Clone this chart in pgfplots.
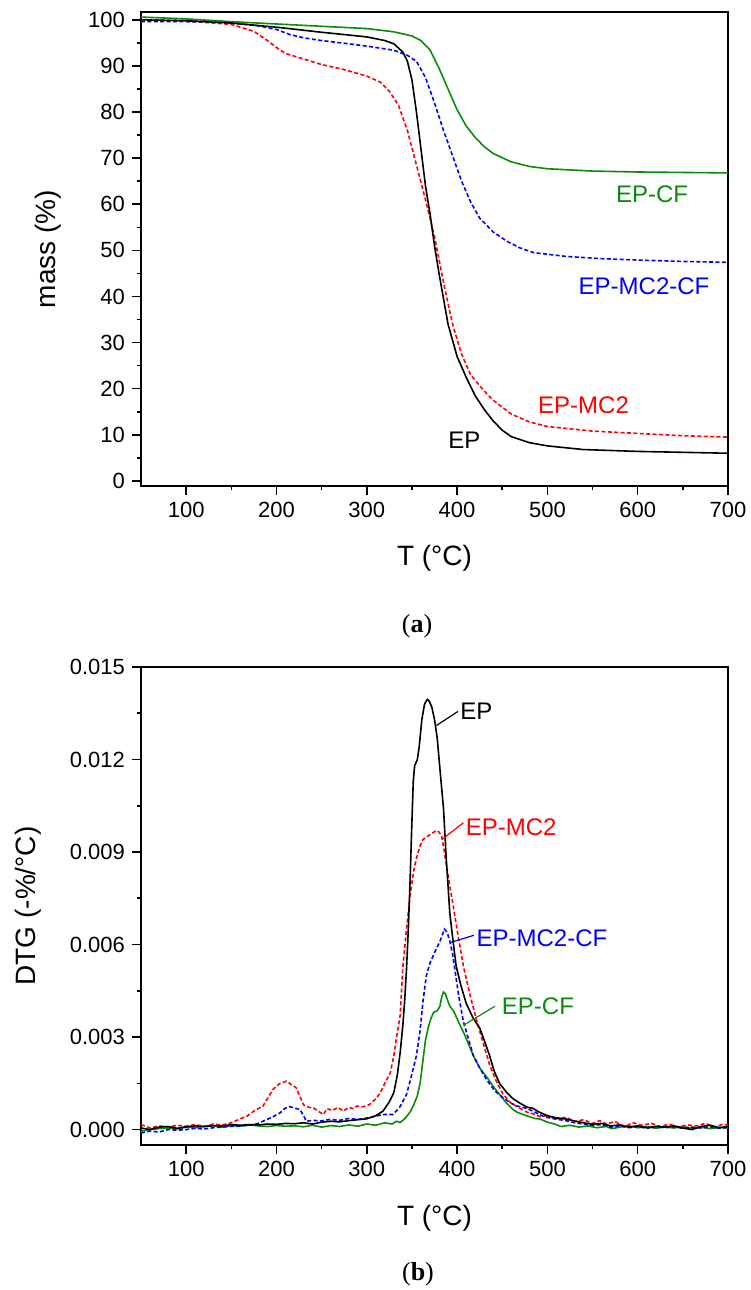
\documentclass[border=0pt]{standalone}
\usepackage{fontspec}
\setmainfont{Liberation Sans}
\newfontfamily\capserif{Liberation Serif}
\usepackage{pgfplots}
\pgfplotsset{compat=1.18}
\definecolor{cgreen}{RGB}{10,140,10}
\pgfplotstableread{
T m
50 100.6
100 100.2
150 99.6
200 99.1
250 98.6
300 98.1
330 97.4
350 96.5
360 95.5
370 93.5
380 89.5
390 85
400 80.5
410 77
420 74.5
430 72.5
440 71
460 69.2
480 68.2
500 67.7
550 67.2
600 67
650 66.9
700 66.8
}\tgaCF
\pgfplotstableread{
T m
50 100
100 99.8
150 99.3
200 98.4
250 97.3
300 96.3
320 95.5
330 94.8
340 93
345 91
350 87
355 80
360 72
365 64
370 58
375 51
380 45
390 34
400 27
410 22.5
420 18.5
430 15.5
440 13
450 11
460 9.6
480 8.3
500 7.6
540 6.8
600 6.4
650 6.2
700 6.0
}\tgaEP
\pgfplotstableread{
T m
50 100
100 99.8
150 99
175 97.5
190 95.5
200 94
210 92.7
225 91.8
250 90.3
275 89.2
300 87.8
315 86.5
325 84.5
335 81.5
345 76
355 68.5
365 61
375 53
385 43
395 34
405 27.5
415 23
430 19.5
440 17.5
460 14.5
480 12.8
500 11.8
550 10.8
600 10.3
650 9.8
700 9.5
}\tgaMC
\pgfplotstableread{
T m
50 99.6
100 99.6
150 99.3
180 98.7
200 97.9
215 96.8
230 96.1
250 95.5
280 94.8
300 94.3
330 93.4
345 92.3
355 91
365 87.5
375 82
385 76
395 70.5
405 65
415 60.5
425 57
440 54
455 52
470 50.5
485 49.5
520 48.7
560 48.2
600 47.9
650 47.6
700 47.4
}\tgaMCCF
\pgfplotstableread{
T d
50 0.00005
60 0.00000
70 0.00008
80 0.00010
90 0.00004
100 0.00009
110 0.00012
120 0.00010
130 0.00013
140 0.00012
150 0.00016
160 0.00014
170 0.00016
180 0.00015
190 0.00018
200 0.00017
210 0.00020
220 0.00019
230 0.00022
240 0.00018
250 0.00024
260 0.00027
270 0.00025
280 0.00029
290 0.00032
300 0.00035
310 0.00045
318 0.00060
325 0.00090
330 0.00120
334 0.00180
337 0.00250
340 0.00340
342 0.00420
344 0.00520
346 0.00650
348 0.00810
350 0.01000
351.5 0.01130
353 0.01180
356 0.01200
358 0.01240
361 0.01330
364 0.01380
367 0.01395
369 0.01390
372 0.01370
375 0.01330
378 0.01270
381 0.01170
385 0.01040
388 0.00880
392 0.00700
396 0.00600
399 0.00530
404 0.00470
410 0.00410
418 0.00360
425 0.00330
430 0.00290
436 0.00240
441 0.00190
447 0.00150
455 0.00120
462 0.00100
470 0.00085
478 0.00072
484 0.00069
490 0.00058
500 0.00045
510 0.00038
521 0.00034
530 0.00028
540 0.00022
550 0.00017
560 0.00020
570 0.00012
580 0.00015
590 0.00008
600 0.00012
610 0.00006
620 0.00010
630 0.00008
640 0.00012
650 0.00005
660 0.00000
670 0.00010
680 0.00014
690 0.00006
700 0.00010
}\dtgEP
\pgfplotstableread{
T d
50 0.00016
60 0.00005
70 0.00012
80 0.00008
90 0.00014
100 0.00011
110 0.00016
120 0.00010
130 0.00018
140 0.00015
150 0.00022
160 0.00035
167 0.00043
175 0.00060
185 0.00076
190 0.00100
196 0.00130
203 0.00148
211 0.00157
217 0.00145
222 0.00135
227 0.00100
230 0.00080
236 0.00072
241 0.00070
246 0.00060
252 0.00049
256 0.00068
262 0.00062
268 0.00072
274 0.00060
280 0.00072
285 0.00068
289 0.00076
296 0.00074
303 0.00081
310 0.00100
315 0.00119
320 0.00150
326 0.00184
330 0.00240
333 0.00300
337 0.00370
340 0.00530
344 0.00650
348 0.00760
352 0.00840
355 0.00880
359 0.00920
362 0.00940
367 0.00950
372 0.00960
377 0.00970
380 0.00965
383 0.00950
386 0.00900
388 0.00860
392 0.00790
396 0.00720
401 0.00630
407 0.00530
414 0.00440
422 0.00350
429 0.00280
436 0.00210
443 0.00160
451 0.00114
460 0.00085
469 0.00070
477 0.00057
485 0.00050
492 0.00042
500 0.00045
510 0.00035
521 0.00040
530 0.00025
540 0.00032
550 0.00020
558 0.00029
565 0.00018
575 0.00026
585 0.00010
595 0.00022
605 0.00014
615 0.00020
625 0.00010
635 0.00018
645 0.00008
655 0.00015
665 0.00012
675 0.00020
685 0.00008
695 0.00018
700 0.00014
}\dtgMC
\pgfplotstableread{
T d
50 -0.00011
60 -0.00005
70 -0.00008
80 0.00000
90 -0.00002
100 0.00000
110 0.00004
120 0.00002
130 0.00006
140 0.00008
148 0.00010
160 0.00012
170 0.00014
180 0.00020
185 0.00027
195 0.00040
204 0.00054
210 0.00070
215 0.00074
220 0.00070
226 0.00065
230 0.00045
233 0.00027
240 0.00030
250 0.00028
259 0.00033
270 0.00030
280 0.00036
290 0.00033
296 0.00035
305 0.00040
318 0.00049
329 0.00049
336 0.00070
344 0.00114
350 0.00180
355 0.00240
359 0.00320
362 0.00410
366 0.00500
370 0.00540
376 0.00580
381 0.00610
386 0.00650
389 0.00640
392 0.00610
395 0.00570
398 0.00510
402 0.00430
407 0.00350
412 0.00300
418 0.00240
425 0.00200
433 0.00160
442 0.00125
451 0.00103
460 0.00085
468 0.00075
477 0.00069
485 0.00058
494 0.00045
502 0.00038
511 0.00033
521 0.00029
530 0.00022
540 0.00018
550 0.00014
560 0.00016
570 0.00008
580 0.00012
590 0.00006
600 0.00010
610 0.00004
620 0.00010
630 0.00006
640 0.00009
650 0.00004
660 0.00008
670 0.00005
680 0.00009
690 0.00004
700 0.00007
}\dtgMCCF
\pgfplotstableread{
T d
50 -0.00005
60 0.00000
70 0.00003
80 0.00005
90 0.00002
100 0.00008
110 0.00006
120 0.00010
130 0.00012
140 0.00008
150 0.00013
160 0.00011
170 0.00015
180 0.00012
190 0.00010
200 0.00013
210 0.00011
220 0.00012
230 0.00009
240 0.00014
250 0.00008
260 0.00013
270 0.00010
280 0.00015
290 0.00011
300 0.00018
310 0.00014
320 0.00022
328 0.00018
333 0.00027
337 0.00023
342 0.00035
348 0.00057
352 0.00080
356 0.00110
359 0.00149
362 0.00220
365 0.00290
368 0.00330
371 0.00360
374 0.00380
378 0.00385
381 0.00400
383 0.00430
385 0.00446
387 0.00440
390 0.00415
392 0.00400
396 0.00385
400 0.00360
403 0.00340
408 0.00310
413 0.00275
418 0.00240
425 0.00200
433 0.00170
440 0.00140
447 0.00114
455 0.00085
462 0.00065
466 0.00057
472 0.00050
480 0.00042
486 0.00036
492 0.00034
500 0.00024
508 0.00018
515 0.00010
525 0.00014
535 0.00008
545 0.00012
555 0.00006
565 0.00010
572 0.00003
580 0.00008
590 0.00012
600 0.00006
610 0.00010
620 0.00004
630 0.00009
640 0.00005
650 0.00010
660 0.00004
670 0.00008
680 0.00003
690 0.00007
700 0.00005
}\dtgCF
\pgfplotsset{
  myax/.style={
    scale only axis, width=293.5pt,
    xmin=50, xmax=700, xtick={100,200,...,700}, minor x tick num=1,
    axis line style={line width=0.9pt},
    tick align=outside, xtick pos=bottom, ytick pos=left,
    major tick length=4.5pt, minor tick length=2.2pt,
    every tick/.style={line width=0.8pt,black},
    tick label style={font=\fontsize{11}{13}\selectfont},
    label style={font=\fontsize{14}{16}\selectfont},
    /pgf/number format/assume math mode=true,
    xlabel={T (°C)},
    no markers, clip=false,
    every axis plot/.append style={line width=0.8pt},
  },
  dsh/.style={dash pattern=on 2pt off 1.2pt},
}
\begin{document}
\begin{tikzpicture}
\useasboundingbox (0,0) rectangle (375pt,645pt);
\begin{axis}[myax, at={(70.5pt,402pt)}, anchor=south west, height=237pt,
  ymin=-1.1, ymax=101.7, ytick={0,10,...,100}, minor y tick num=1,
  ylabel={mass (\%)},
  xlabel style={at={(axis description cs:0.5,-0.152)}, anchor=center},
  ylabel style={at={(axis description cs:-0.1584,0.5)}, anchor=center},
]
\addplot[cgreen] table[x=T,y=m] {\tgaCF};
\addplot[blue,dsh] table[x=T,y=m] {\tgaMCCF};
\addplot[red,dsh] table[x=T,y=m] {\tgaMC};
\addplot[black] table[x=T,y=m] {\tgaEP};
\node[cgreen,font=\fontsize{12}{14}\selectfont] at (axis cs:616,62.2) {EP-CF};
\node[blue,font=\fontsize{12}{14}\selectfont] at (axis cs:607,42.3) {EP-MC2-CF};
\node[red,font=\fontsize{12}{14}\selectfont] at (axis cs:540,16.4) {EP-MC2};
\node[black,font=\fontsize{12}{14}\selectfont] at (axis cs:408,8.9) {EP};
\end{axis}
\node[font=\capserif\fontsize{13}{15}\selectfont] at (208.5pt,332pt) {(\textbf{a})};
\begin{axis}[myax, at={(70.5pt,72.5pt)}, anchor=south west, height=239pt,
  ymin=-0.0005, ymax=0.015, ytick={0,0.003,0.006,0.009,0.012,0.015}, minor y tick num=1,
  scaled y ticks=false,
  yticklabel style={/pgf/number format/.cd, fixed, fixed zerofill, precision=3},
  ylabel={DTG (-\%/°C)},
  xlabel style={at={(axis description cs:0.5,-0.153)}, anchor=center},
  ylabel style={at={(axis description cs:-0.1925,0.5)}, anchor=center},
]
\addplot[cgreen] table[x=T,y=d] {\dtgCF};
\addplot[blue,dsh] table[x=T,y=d] {\dtgMCCF};
\addplot[red,dsh] table[x=T,y=d] {\dtgMC};
\addplot[black] table[x=T,y=d] {\dtgEP};
\draw[black,line width=0.6pt] (axis cs:377,0.0131) -- (axis cs:401,0.01356);
\node[black,anchor=west,inner sep=1pt,font=\fontsize{12}{14}\selectfont] at (axis cs:401,0.01356) {EP};
\draw[red,line width=0.6pt] (axis cs:383,0.0094) -- (axis cs:407,0.00995);
\node[red,anchor=west,inner sep=1pt,font=\fontsize{12}{14}\selectfont] at (axis cs:407,0.0098) {EP-MC2};
\draw[blue,line width=0.6pt] (axis cs:392,0.00606) -- (axis cs:418.6,0.0063);
\node[blue,anchor=west,inner sep=1pt,font=\fontsize{12}{14}\selectfont] at (axis cs:419,0.0062) {EP-MC2-CF};
\draw[cgreen,line width=0.6pt] (axis cs:407,0.00338) -- (axis cs:442,0.0040);
\node[cgreen,anchor=west,inner sep=1pt,font=\fontsize{12}{14}\selectfont] at (axis cs:447,0.0040) {EP-CF};
\end{axis}
\node[font=\capserif\fontsize{13}{15}\selectfont] at (209pt,8pt) {(\textbf{b})};
\end{tikzpicture}
\end{document}
